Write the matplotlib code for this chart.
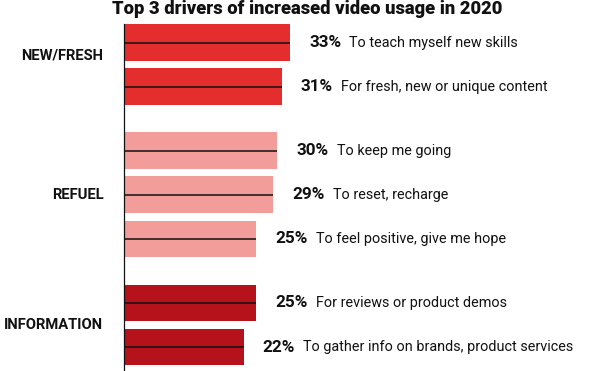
import numpy as np
import matplotlib
matplotlib.use("Agg")
from matplotlib import pyplot as plt

# data
groups = ["NEW/FRESH", "REFUEL", "INFORMATION"]
group_sizes = [2, 3, 2]
values = [33, 31, 30, 29, 25, 25, 22]
reasons = ["To teach myself new skills",
           "For fresh, new or unique content",
           "To keep me going",
           "To reset, recharge",
           "To feel positive, give me hope",
           "For reviews or product demos",
           "To gather info on brands, product services"]
group_colors = ["#E32E2D", "#F29D9A", "#B5121B"]

# the infographic bars do not start at zero
baseline = -6.3
group_gap = 0.45
label_nudge = [-0.2, 0.0, 0.0]

plt.rcParams['font.family'] = ['Roboto', 'DejaVu Sans']

fig = plt.figure(figsize=(6, 3.71), dpi=100)
ax = fig.add_axes([124.3 / 600, 0, 1 - 124.3 / 600, 1 - 24.3 / 371])

#work out y positions with a gap between the groups
ypos = []
colors = []
group_mid = []
i = 0
for g, n in enumerate(group_sizes):
    ys = [i + k + g * group_gap for k in range(n)]
    ypos += ys
    colors += [group_colors[g]] * n
    group_mid.append(np.mean(ys) + label_nudge[g])
    i += n
ypos = np.array(ypos)
vals = np.array(values)

ax.barh(ypos, vals - baseline, left=baseline, height=0.83, color=colors, edgecolor='none')
ax.hlines(ypos, baseline, vals, color='#111111', linewidth=1.1)

for y, v, txt in zip(ypos, vals, reasons):
    pct = ax.annotate(f"{v}%", xy=(v, y), xytext=(13.7, 0), textcoords='offset points',
                      ha='left', va='center', fontsize=12.3, fontweight='bold', color='#111111')
    ax.annotate(txt, xy=(1, 0.5), xycoords=pct, xytext=(5.8, 0), textcoords='offset points',
                ha='left', va='center', fontsize=10.4, color='#111111')

for name, y in zip(groups, group_mid):
    ax.annotate(name, xy=(0, y), xycoords=('axes fraction', 'data'), xytext=(-15, 0),
                textcoords='offset points', ha='right', va='center', fontsize=10.6,
                fontweight='bold', color='#111111', annotation_clip=False)

ax.set_xlim(baseline, baseline + (600 - 124.3) / 4.22)
ax.set_ylim(ypos[0] + (371 - 42.5) / 44.13, ypos[0] - 0.415)
for s in ['top', 'right', 'bottom']:
    ax.spines[s].set_visible(False)
ax.spines['left'].set_linewidth(0.9)
ax.spines['left'].set_color('#111111')
ax.set_xticks([])
ax.set_yticks([])

fig.text(0.512, 1 - 14.5 / 371, "Top 3 drivers of increased video usage in 2020",
         ha='center', va='baseline', fontsize=13.2, fontweight='heavy', color='#111111')

fig.savefig("out.png", dpi=100)
